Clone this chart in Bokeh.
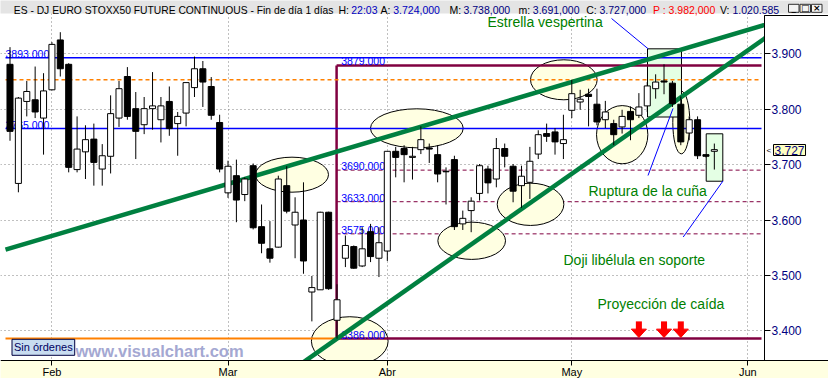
from bokeh.plotting import figure
from bokeh.models import ColumnDataSource, Range1d, FixedTicker, Label
from bokeh.core.properties import value
from bokeh.embed import file_html
from bokeh.resources import INLINE

# ---------------- data (daily bars, 25 Jan .. 29 May) ----------------
open_ = [3881, 3666, 3814, 3817, 3784, 3835, 3925, 3881, 3691, 3723,
         3746, 3692, 3715, 3784, 3859, 3801, 3772, 3801, 3781, 3814,
         3774, 3793, 3839, 3873, 3841, 3776, 3649, 3680, 3646, 3698,
         3588, 3548, 3551, 3662, 3591, 3600, 3470, 3474, 3614, 3419,
         3531, 3552, 3517, 3579, 3531, 3544, 3724, 3729, 3713, 3727,
         3730, 3718, 3688, 3709, 3593, 3617, 3648, 3692, 3674, 3729,
         3697, 3662, 3668, 3719, 3756, 3759, 3738, 3798, 3813, 3827,
         3809, 3781, 3774, 3768, 3796, 3789, 3806, 3837, 3851, 3847,
         3809, 3757, 3781, 3718, 3724]
high = [3912, 3822, 3851, 3877, 3865, 3921, 3939, 3883, 3787, 3771,
        3774, 3737, 3825, 3851, 3876, 3831, 3822, 3867, 3822, 3841,
        3795, 3848, 3895, 3887, 3858, 3790, 3707, 3709, 3677, 3702,
        3628, 3598, 3680, 3697, 3641, 3668, 3499, 3615, 3615, 3484,
        3572, 3554, 3587, 3593, 3587, 3724, 3732, 3735, 3732, 3769,
        3738, 3735, 3695, 3716, 3617, 3641, 3701, 3698, 3748, 3738,
        3701, 3698, 3732, 3762, 3774, 3766, 3790, 3853, 3835, 3837,
        3837, 3815, 3781, 3799, 3805, 3829, 3849, 3863, 3881, 3851,
        3823, 3787, 3787, 3718, 3738]
low = [3743, 3650, 3787, 3784, 3718, 3834, 3859, 3686, 3686, 3674,
       3662, 3662, 3684, 3768, 3781, 3710, 3755, 3763, 3740, 3752,
       3716, 3769, 3822, 3804, 3781, 3686, 3640, 3596, 3634, 3583,
       3540, 3523, 3550, 3612, 3531, 3503, 3417, 3474, 3474, 3386,
       3515, 3512, 3515, 3524, 3497, 3526, 3677, 3668, 3673, 3719,
       3703, 3668, 3628, 3582, 3582, 3578, 3635, 3648, 3659, 3695,
       3632, 3622, 3638, 3710, 3741, 3718, 3710, 3784, 3799, 3769,
       3771, 3766, 3735, 3756, 3744, 3784, 3795, 3819, 3827, 3804,
       3735, 3744, 3710, 3713, 3691]
close = [3760, 3820, 3832, 3795, 3833, 3917, 3873, 3695, 3728, 3745,
         3704, 3716, 3792, 3837, 3787, 3760, 3801, 3806, 3806, 3765,
         3787, 3848, 3873, 3849, 3789, 3692, 3697, 3636, 3674, 3586,
         3558, 3531, 3674, 3616, 3614, 3526, 3478, 3614, 3476, 3456,
         3554, 3513, 3548, 3534, 3559, 3724, 3713, 3718, 3715, 3745,
         3728, 3683, 3687, 3588, 3603, 3634, 3698, 3667, 3729, 3715,
         3652, 3679, 3706, 3754, 3751, 3741, 3745, 3828, 3818, 3823,
         3777, 3795, 3754, 3787, 3781, 3804, 3842, 3849, 3849, 3810,
         3741, 3781, 3716, 3715, 3727]

month_labels = ["Feb", "Mar", "Abr", "May", "Jun"]
month_start_bar = [5, 26, 45, 67, 88]
price_ticks = [3400, 3500, 3600, 3700, 3800, 3900]
price_tick_labels = ["3.400", "3.500", "3.600", "3.700", "3.800", "3.900"]

blue_levels = [3893, 3765]
orange_dash_level = 3853
support_level = 3386
box_top_level = 3879
purple_dash_levels = [3690, 3633, 3575]
last_price = 3727

title_parts = ["ES - DJ EURO STOXX50 FUTURE CONTINUOUS - Fin de día 1 días",
               "H:", "22:03", "A:", "3.724,000", "M:", "3.738,000", "m:", "3.691,000",
               "C:", "3.727,000", "P : 3.982,000", "V:", "1.020.585"]

notes = ["Estrella vespertina", "Ruptura de la cuña",
         "Doji libélula en soporte", "Proyección de caída"]

# ---------------- page geometry (pixel <-> data) ----------------
W, H = 828, 378
BAR0_PX, BAR_PX = 9.5, 8.385          # x pixel of bar 0, px per bar
P3900_PX, PX_PER_PT = 53.3, 0.554     # y pixel of 3900, px per point


def bx(px):
    return (px - BAR0_PX) / BAR_PX


def py(pix):
    return 3900 - (pix - P3900_PX) / PX_PER_PT


CHART_RIGHT, CHART_BOTTOM, TITLE_H, PANEL_TOP = 764, 360, 13, 15
FONT = value("Liberation Sans")

idx = list(range(len(open_)))
src = ColumnDataSource(dict(
    x=idx, o=open_, h=high, l=low, c=close,
    top=[max(a, b) for a, b in zip(open_, close)],
    bot=[min(a, b) for a, b in zip(open_, close)],
    fill=["black" if c < o else "white" for o, c in zip(open_, close)],
))

p = figure(width=W, height=H, x_range=Range1d(bx(0), bx(W)), y_range=Range1d(py(H), py(0)),
           y_axis_location="right", toolbar_location=None, output_backend="svg",
           min_border=0, background_fill_color="white", border_fill_color="white",
           outline_line_color=None)
p.title.visible = False

# ---------------- axes (pinned inside the page) ----------------
xa = p.xaxis[0]
xa.fixed_location = py(CHART_BOTTOM)
xa.ticker = FixedTicker(ticks=month_start_bar)
xa.major_label_overrides = {k: v for k, v in zip(month_start_bar, month_labels)}
xa.major_label_text_align = "left"
xa.major_label_text_font = "Liberation Sans"
xa.major_label_text_font_size = "11px"
xa.major_label_text_color = "black"
xa.major_label_standoff = 0
xa.major_tick_out = 5
xa.major_tick_in = 0
xa.minor_tick_out = 0
xa.minor_tick_in = 0
xa.axis_line_color = "black"

ya = p.yaxis[0]
ya.fixed_location = bx(CHART_RIGHT)
ya.bounds = (py(CHART_BOTTOM), py(PANEL_TOP))
ya.ticker = FixedTicker(ticks=price_ticks)
ya.major_label_overrides = {k: v for k, v in zip(price_ticks, price_tick_labels)}
ya.major_label_text_font = "Liberation Sans"
ya.major_label_text_font_size = "12px"
ya.major_label_text_color = "#000080"
ya.major_label_standoff = 1
ya.major_tick_out = 6
ya.major_tick_in = 0
ya.minor_tick_out = 0
ya.minor_tick_in = 0
ya.axis_line_color = "black"

p.xgrid.ticker = FixedTicker(ticks=month_start_bar)
p.ygrid.ticker = FixedTicker(ticks=price_ticks)
for g in (p.xgrid[0], p.ygrid[0]):
    g.grid_line_color = "#808080"
    g.grid_line_dash = "1 3"
    g.grid_line_width = 1

# ---------------- chart annotations ----------------
LX0, LX1, BX = bx(5), bx(761), 38.95

p.segment(x0=[BX] * 3, x1=[LX1] * 3, y0=purple_dash_levels, y1=purple_dash_levels,
          line_color="#800040", line_width=1, line_dash="4 3")

ell_x = [33.63, 48.52, 40.52, 55.06, 62.08, 66.05, 73.01, 80.06]
ell_y = [3681.8, 3765.5, 3381.2, 3562.5, 3628.3, 3853.1, 3754.0, 3776.0]
ell_w = [8.71, 11.06, 9.15, 8.07, 7.95, 7.95, 6.12, 2.03]
ell_h = [63.2, 70.4, 88.4, 67.3, 76.4, 72.2, 105.2, 113.2]
p.ellipse(x=ell_x, y=ell_y, width=ell_w, height=ell_h,
          fill_color="#FFFFE2", line_color="black", line_width=1)

p.quad(left=[76.03, 83.03], right=[80.08, 85.01], top=[3909, 3755.6], bottom=[3785.9, 3670],
       fill_color="#E4FFE4", line_color="black", line_width=1)

p.segment(x0=[BX, BX, BX], x1=[BX, LX1, LX1],
          y0=[support_level, box_top_level, support_level],
          y1=[box_top_level, box_top_level, support_level],
          line_color="#800040", line_width=2.5)
p.segment(x0=[LX0], x1=[BX], y0=[support_level], y1=[support_level],
          line_color="#FF8000", line_width=2)
p.segment(x0=[LX0], x1=[LX1], y0=[orange_dash_level], y1=[orange_dash_level],
          line_color="#FF8000", line_width=1.5, line_dash="4 3")
p.segment(x0=[LX0] * 2, x1=[LX1] * 2, y0=blue_levels, y1=blue_levels,
          line_color="#0000FF", line_width=1.5)

lvl_vals = blue_levels + [box_top_level] + purple_dash_levels + [support_level]
lvl_x = [LX0, LX0] + [39.5] * 5
p.text(x=lvl_x, y=lvl_vals, text=[f"{v}.000" for v in lvl_vals],
       text_font=FONT, text_font_size="10.5px", text_color="#0000FF",
       text_baseline="alphabetic", y_offset=-4)

# wedge lines
p.line(x=[LX0, 92], y=[3546.4, 3961.0], line_color="#008040", line_width=4.5)
p.line(x=[34.5, 92], y=[3338.2, 3948.9], line_color="#008040", line_width=4.5)

# candles
p.segment(x0="x", x1="x", y0="l", y1="h", source=src, line_color="black", line_width=1)
p.vbar(x="x", width=0.72, top="top", bottom="bot", source=src,
       fill_color="fill", line_color="black", line_width=1)

# pointer lines
p.multi_line(xs=[[71.74, 76.11], [76.09, 79.07], [80.29, 85.03]],
             ys=[[3963.7, 3909], [3680.3, 3801.3], [3569.3, 3670.4]],
             line_color="#0000FF", line_width=1)

p.text(x=[56.95, 68.99, 66.01, 70.07], y=[3958.3, 3653.2, 3526.9, 3448.7], text=notes,
       text_font=FONT, text_font_size="14px", text_color="#008000",
       text_baseline="alphabetic")

arrow_x = [75, 78, 80]
p.quad(left=[a - 0.36 for a in arrow_x], right=[a + 0.36 for a in arrow_x],
       top=[3417] * 3, bottom=[3401] * 3, fill_color="#FF0000", line_color=None)
p.patches(xs=[[a - 0.9, a + 0.9, a] for a in arrow_x],
          ys=[[3403, 3403, 3388] for _ in arrow_x],
          fill_color="#FF0000", line_color="#FF0000")

# ---------------- window chrome (drawn over the chart edges) ----------------
p.quad(left=[bx(CHART_RIGHT)], right=[bx(W + 2)], top=[py(PANEL_TOP)], bottom=[py(CHART_BOTTOM)],
       fill_color="white", line_color="black", line_width=1)
p.quad(left=[bx(-2)], right=[bx(W + 2)], top=[py(CHART_BOTTOM)], bottom=[py(H + 2)],
       fill_color="#FFFFE1", line_color=None)
p.quad(left=[bx(-2)], right=[bx(W + 2)], top=[py(-2)], bottom=[py(TITLE_H)],
       fill_color="#E4E4E4", line_color=None)
btn_l = [788, 799.5, 811]
p.quad(left=[bx(v) for v in btn_l], right=[bx(v + 10.5) for v in btn_l],
       top=[py(3.8)] * 3, bottom=[py(11.8)] * 3,
       fill_color="#F4F4F4", line_color="#303030", line_width=1)


def clabel(x, y, text, **kw):
    kw.setdefault("text_font", "Liberation Sans")
    p.add_layout(Label(x=x, y=H - y, x_units="screen", y_units="screen", text=text, **kw))


title_x = [13.3, 338, 350.7, 380, 392.7, 449, 463, 518, 532.3, 585.7, 599, 652.5, 719.5, 732]
title_col = ["black", "black", "#0000C0", "black", "#0000C0", "black", "#000080", "black",
             "#000080", "black", "#000080", "#FF0000", "black", "#000080"]
for i, (tx, tt, tc) in enumerate(zip(title_x, title_parts, title_col)):
    clabel(tx, 9.6, tt, text_color=tc, text_font_size="10.3px" if i == 0 else "10.5px",
           text_baseline="alphabetic")

for bl, sym in zip(btn_l, ["_", "□", "×"]):
    clabel(bl + 5.25, 7.8, sym, text_align="center", text_baseline="middle",
           text_font="DejaVu Sans", text_font_size="9px", text_font_style="bold",
           text_color="black")

clabel(773, 149.5, f"{last_price / 1000:.3f}", text_baseline="middle",
       text_font_size="12px", text_color="#000080", background_fill_color="#FFFFC0",
       border_line_color="black", padding=1)
clabel(766, 149.5, "<", text_baseline="middle", text_font_size="8px", text_color="black")

clabel(11.5, 346.8, "Sin órdenes", text_baseline="middle", text_font_size="11px",
       text_color="#000060", background_fill_color="#C8DCF0", border_line_color="#000040",
       padding=2)
clabel(75, 350, "www.visualchart.com", text_baseline="alphabetic", text_font_size="16.5px",
       text_font_style="bold", text_color="#A4A8D2")

open("out.html", "w").write(file_html(p, INLINE))
